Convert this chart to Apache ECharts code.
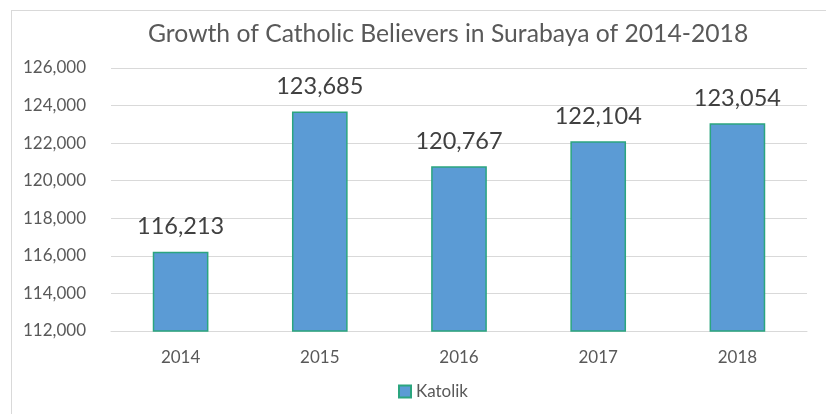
<!DOCTYPE html>
<html><head><meta charset="utf-8">
<script src="https://cdn.jsdelivr.net/npm/echarts@6/dist/echarts.min.js"></script>
<style>html,body{margin:0;padding:0;background:#fff}#c{width:826px;height:414px}
#frame{position:absolute;left:11px;top:10px;width:830px;height:420px;border:1px solid #d9d9d9;pointer-events:none}</style>
</head><body><div id="c"></div><div id="frame"></div>
<script>
const categories = ['2014','2015','2016','2017','2018'];
const katolik = [116213, 123685, 120767, 122104, 123054];
const titleText = 'Growth of Catholic Believers in Surabaya of 2014-2018';
const seriesName = 'Katolik';
const F = 'Lato, "Open Sans", sans-serif';
const chart = echarts.init(document.getElementById('c'));
chart.setOption({
  animation:false,
  title:{text:titleText,left:143,top:17,textStyle:{fontFamily:F,fontSize:24.7,fontWeight:'normal',color:'#595959'}},
  legend:{data:[seriesName],top:378,left:393,itemWidth:12,itemHeight:12,icon:'rect',itemGap:3,
    textStyle:{fontFamily:F,fontSize:17,color:'#595959'}},
  grid:{left:111,right:19,top:68,bottom:83},
  xAxis:{type:'category',data:categories,axisTick:{show:false},
    axisLine:{lineStyle:{color:'#d9d9d9'}},
    axisLabel:{fontFamily:F,fontSize:17,color:'#595959',margin:18}},
  yAxis:{type:'value',min:112000,max:126000,interval:2000,
    axisLabel:{fontFamily:F,fontSize:17,color:'#595959',margin:25,formatter:v=>v.toLocaleString('en-US')},
    splitLine:{lineStyle:{color:'#d9d9d9'}}},
  series:[{name:seriesName,type:'bar',data:katolik,barWidth:'40%',
    itemStyle:{color:'#5B9BD5',borderColor:'#2BA57F',borderWidth:1.5},
    label:{show:true,position:'top',distance:13,fontFamily:F,fontSize:23.5,color:'#404040',
      formatter:p=>p.value.toLocaleString('en-US')}}]
});
</script></body></html>
